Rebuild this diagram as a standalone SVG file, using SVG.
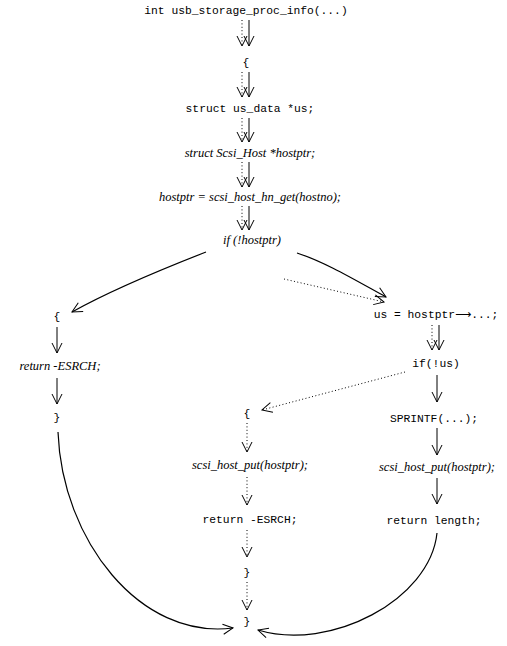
<svg xmlns="http://www.w3.org/2000/svg" width="507" height="646" viewBox="0 0 507 646">
<style>
.m{font-family:"Liberation Mono",monospace;font-size:11.3px;fill:#000;text-anchor:middle}
.i{font-family:"Liberation Serif",serif;font-style:italic;font-size:12.5px;fill:#000;text-anchor:middle}
.s{fill:none;stroke:#000;stroke-width:1}
.d{fill:none;stroke:#000;stroke-width:1;stroke-dasharray:1 2.4}
.c{fill:none;stroke:#000;stroke-width:1.2}
.arr{font-family:"DejaVu Sans",sans-serif}
</style>
<defs>
<marker id="ah" markerUnits="userSpaceOnUse" markerWidth="16" markerHeight="16" viewBox="-12 -8 16 16" refX="0" refY="0" orient="auto" overflow="visible">
<path d="M -10,-5 Q -3,-1.5 0,0 Q -3,1.5 -10,5" fill="none" stroke="#000" stroke-width="1" stroke-dasharray="none"/>
</marker>
</defs>
<rect width="507" height="646" fill="#fff"/>
<g id="n-title"><text class="m" x="246" y="14">int usb_storage_proc_info(...)</text></g>
<g id="n-open1"><text class="m" x="246" y="66">{</text></g>
<g id="n-usdata"><text class="m" x="250" y="112">struct us_data *us;</text></g>
<g id="n-scsihost"><text class="i" x="250" y="157">struct Scsi_Host *hostptr;</text></g>
<g id="n-hostptr"><text class="i" x="250" y="201">hostptr = scsi_host_hn_get(hostno);</text></g>
<g id="n-if1"><text class="i" x="252" y="244">if (!hostptr)</text></g>
<g id="n-lopen"><text class="m" x="57" y="320">{</text></g>
<g id="n-lreturn"><text class="i" x="60" y="370">return -ESRCH;</text></g>
<g id="n-lclose"><text class="m" x="57" y="421">}</text></g>
<g id="n-us"><text class="m" x="436" y="318">us = hostptr<tspan class="arr">⟶</tspan>...;</text></g>
<g id="n-ifus"><text class="m" x="436" y="367">if(!us)</text></g>
<g id="n-sprintf"><text class="m" x="434" y="422">SPRINTF(...);</text></g>
<g id="n-rput"><text class="i" x="437" y="471">scsi_host_put(hostptr);</text></g>
<g id="n-rlength"><text class="m" x="434" y="524">return length;</text></g>
<g id="n-mopen"><text class="m" x="247" y="417">{</text></g>
<g id="n-mput"><text class="i" x="250" y="469">scsi_host_put(hostptr);</text></g>
<g id="n-mreturn"><text class="m" x="250" y="523">return -ESRCH;</text></g>
<g id="n-mclose"><text class="m" x="247" y="576">}</text></g>
<g id="n-end"><text class="m" x="247" y="625">}</text></g>
<g id="connectors">
<line class="d" x1="242" y1="20" x2="242" y2="46" marker-end="url(#ah)"/>
<line class="s" x1="249" y1="20" x2="249" y2="46" marker-end="url(#ah)"/>
<line class="d" x1="242" y1="72" x2="242" y2="97" marker-end="url(#ah)"/>
<line class="s" x1="249" y1="72" x2="249" y2="97" marker-end="url(#ah)"/>
<line class="d" x1="242" y1="118" x2="242" y2="142" marker-end="url(#ah)"/>
<line class="s" x1="249" y1="118" x2="249" y2="142" marker-end="url(#ah)"/>
<line class="d" x1="242" y1="162" x2="242" y2="187" marker-end="url(#ah)"/>
<line class="s" x1="249" y1="162" x2="249" y2="187" marker-end="url(#ah)"/>
<line class="d" x1="242" y1="206" x2="242" y2="230" marker-end="url(#ah)"/>
<line class="s" x1="249" y1="206" x2="249" y2="230" marker-end="url(#ah)"/>
<path class="c" d="M 206,252 C 165,268 115,288 72,312" marker-end="url(#ah)"/>
<path class="c" d="M 297,253 C 325,262 355,280 386,297" marker-end="url(#ah)"/>
<path class="d" d="M 284,279 L 384,302" marker-end="url(#ah)"/>
<line class="s" x1="57" y1="327" x2="57" y2="353" marker-end="url(#ah)"/>
<line class="s" x1="57" y1="378" x2="57" y2="404" marker-end="url(#ah)"/>
<line class="d" x1="432" y1="325" x2="432" y2="350" marker-end="url(#ah)"/>
<line class="s" x1="439" y1="325" x2="439" y2="350" marker-end="url(#ah)"/>
<line class="s" x1="437" y1="375" x2="437" y2="402" marker-end="url(#ah)"/>
<line class="s" x1="437" y1="428" x2="437" y2="455" marker-end="url(#ah)"/>
<line class="s" x1="437" y1="478" x2="437" y2="504" marker-end="url(#ah)"/>
<path class="d" d="M 405,372 L 262,410" marker-end="url(#ah)"/>
<line class="d" x1="247" y1="423" x2="247" y2="452" marker-end="url(#ah)"/>
<line class="d" x1="247" y1="477" x2="247" y2="505" marker-end="url(#ah)"/>
<line class="d" x1="247" y1="530" x2="247" y2="557" marker-end="url(#ah)"/>
<line class="d" x1="247" y1="582" x2="247" y2="610" marker-end="url(#ah)"/>
<path class="c" d="M 58,432 C 62,540 140,640 233,628" marker-end="url(#ah)"/>
<path class="c" d="M 437,533 C 430,600 330,652 258,630" marker-end="url(#ah)"/>
</g>
</svg>
